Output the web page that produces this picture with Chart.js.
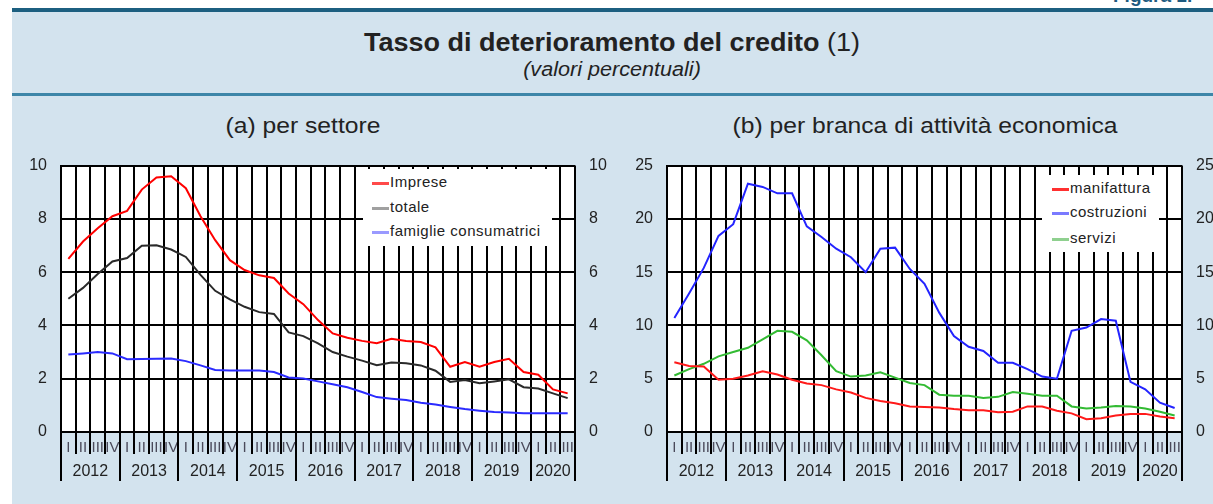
<!DOCTYPE html>
<html lang="it">
<head>
<meta charset="utf-8">
<script src="https://cdn.jsdelivr.net/npm/chart.js@4.4.1/dist/chart.umd.min.js"></script>
<style>
  body { margin: 0; width: 1213px; height: 504px; overflow: hidden; background: #fff; position: relative;
         font-family: 'Liberation Sans', Arial, sans-serif; color: #222; }
  #frame { position: absolute; left: 12px; top: 8px; right: 0; bottom: 0; background: #d3e3ee; border-top: 4px solid #1c5f80; }
  #rule { position: absolute; left: 12px; right: 0; top: 93px; height: 3px; background: #3d86a8; }
  #fig { position: absolute; left: 1113px; top: -15px; font-weight: bold; font-size: 19px; color: #1d5a80; white-space: nowrap; }
  .center { position: absolute; white-space: nowrap; transform: translateX(-50%) scaleX(1.08); }
  #title { left: 612px; top: 28px; font-size: 25px; font-weight: bold; }
  #title span { font-weight: normal; }
  #subtitle { left: 612px; top: 58px; font-size: 20px; font-style: italic; }
  .ptitle { top: 113px; font-size: 22px; transform: translateX(-50%) scaleX(1.12); }
  .wrap { position: absolute; top: 142px; height: 362px; }
  .legend { position: absolute; background: #fff; }
  .legend div { position: absolute; left: 9px; font-size: 15px; letter-spacing: 0.5px; line-height: 18px; white-space: nowrap; }
  .legend i { display: inline-block; width: 17px; height: 3px; vertical-align: middle; margin-right: 1px; }
</style>
</head>
<body>
<div id="frame"></div>
<div id="rule"></div>
<div id="fig">Figura 1.</div>
<div id="title" class="center">Tasso di deterioramento del credito <span>(1)</span></div>
<div id="subtitle" class="center">(valori percentuali)</div>
<div class="center ptitle" style="left:303px">(a) per settore</div>
<div class="center ptitle" style="left:925px">(b) per branca di attività economica</div>

<div class="wrap" style="left:0; width:620px"><canvas id="chartA" width="620" height="362"></canvas></div>
<div class="wrap" style="left:620px; width:593px"><canvas id="chartB" width="593" height="362"></canvas></div>

<div class="legend" style="left:363px; top:169px; width:189px; height:77px">
  <div style="top:4px"><i style="background:#ff4a4a"></i>Imprese</div>
  <div style="top:29px"><i style="background:#a0a0a0"></i>totale</div>
  <div style="top:53px"><i style="background:#9a9aff"></i>famiglie consumatrici</div>
</div>
<div class="legend" style="left:1042px; top:175px; width:117px; height:77px">
  <div style="top:4px; left:10px"><i style="background:#ff3030"></i>manifattura</div>
  <div style="top:28px; left:10px"><i style="background:#7a7aff"></i>costruzioni</div>
  <div style="top:54px; left:10px"><i style="background:#8fd08f"></i>servizi</div>
</div>

<script>
'use strict'
{
  const years = ['2012', '2013', '2014', '2015', '2016', '2017', '2018', '2019', '2020'];
  const periods = [
    '2012 I', '2012 II', '2012 III', '2012 IV', '2013 I', '2013 II', '2013 III', '2013 IV',
    '2014 I', '2014 II', '2014 III', '2014 IV', '2015 I', '2015 II', '2015 III', '2015 IV',
    '2016 I', '2016 II', '2016 III', '2016 IV', '2017 I', '2017 II', '2017 III', '2017 IV',
    '2018 I', '2018 II', '2018 III', '2018 IV', '2019 I', '2019 II', '2019 III', '2019 IV',
    '2020 I', '2020 II', '2020 III'
  ];

  // (a) per settore
  const imprese = [6.5, 7.15, 7.65, 8.1, 8.3, 9.1, 9.55, 9.6, 9.15, 8.1, 7.2, 6.45, 6.08, 5.88, 5.78, 5.2, 4.8, 4.2,
    3.7, 3.54, 3.42, 3.33, 3.5, 3.42, 3.38, 3.18, 2.45, 2.63, 2.45, 2.63, 2.75, 2.25, 2.15, 1.6, 1.45];
  const totale = [5.0, 5.41, 5.93, 6.4, 6.53, 6.99, 7.01, 6.85, 6.57, 5.9, 5.3, 4.98, 4.7, 4.5, 4.43, 3.74, 3.6, 3.33,
    3.0, 2.83, 2.68, 2.51, 2.61, 2.58, 2.5, 2.3, 1.88, 1.95, 1.83, 1.9, 1.98, 1.68, 1.63, 1.45, 1.27];
  const famiglie = [2.91, 2.95, 3.0, 2.95, 2.73, 2.74, 2.75, 2.76, 2.66, 2.5, 2.33, 2.31, 2.31, 2.31, 2.25, 2.05, 2.01, 1.9,
    1.79, 1.68, 1.5, 1.31, 1.25, 1.2, 1.1, 1.03, 0.94, 0.86, 0.8, 0.75, 0.73, 0.7, 0.7, 0.7, 0.7];

  // (b) per branca di attività economica
  const manifattura = [6.55, 6.2, 6.15, 4.9, 5.0, 5.3, 5.7, 5.4, 4.9, 4.55, 4.4, 4.0, 3.7, 3.2, 2.9, 2.7, 2.4, 2.35,
    2.3, 2.15, 2.05, 2.05, 1.85, 1.9, 2.4, 2.4, 2.0, 1.75, 1.2, 1.3, 1.55, 1.7, 1.7, 1.45, 1.3];
  const costruzioni = [10.7, 13.0, 15.4, 18.4, 19.5, 23.3, 23.0, 22.4, 22.4, 19.3, 18.3, 17.2, 16.4, 15.0, 17.2, 17.3, 15.3, 13.9,
    11.2, 9.0, 8.0, 7.6, 6.5, 6.5, 5.9, 5.2, 5.0, 9.5, 9.8, 10.6, 10.45, 4.7, 4.0, 2.75, 2.25];
  const servizi = [5.3, 5.9, 6.4, 7.1, 7.5, 7.9, 8.7, 9.5, 9.4, 8.6, 7.2, 5.7, 5.2, 5.3, 5.6, 5.1, 4.6, 4.4,
    3.5, 3.4, 3.4, 3.2, 3.3, 3.75, 3.6, 3.4, 3.4, 2.4, 2.2, 2.3, 2.45, 2.4, 2.2, 1.9, 1.55];

  const FONT = "'Liberation Sans', Arial, sans-serif";

  // white plot area, quarter/year separators and year labels under the axis
  const quarterAxis = {
    id: 'quarterAxis',
    beforeDraw(chart) {
      const { ctx, chartArea: a } = chart;
      ctx.save();
      ctx.fillStyle = '#fff';
      ctx.fillRect(a.left, a.top, a.right - a.left, a.bottom - a.top);
      ctx.restore();
    },
    afterDraw(chart) {
      const { ctx, chartArea: a } = chart;
      const x = chart.scales.x;
      const n = x.ticks.length;
      const edge = i => i === 0 ? x.left : i === n ? x.right
        : (x.getPixelForTick(i - 1) + x.getPixelForTick(i)) / 2;
      ctx.save();
      ctx.strokeStyle = '#000';
      ctx.lineWidth = 2;
      for (let i = 0; i <= n; i++) {
        const px = Math.round(edge(i));
        const yearLine = i % 4 === 0 || i === n;
        ctx.beginPath();
        ctx.moveTo(px, a.bottom);
        ctx.lineTo(px, a.bottom + (yearLine ? 49 : 22));
        ctx.stroke();
      }
      ctx.fillStyle = '#222';
      ctx.font = '16px ' + FONT;
      ctx.textAlign = 'center';
      ctx.textBaseline = 'middle';
      years.forEach((yr, k) => {
        const s = edge(k * 4), e = edge(Math.min(k * 4 + 4, n));
        ctx.fillText(yr, (s + e) / 2, a.bottom + 40);
      });
      ctx.restore();
    }
  };

  function makeChart(id, series, yMax, yStep, leftW, rightW) {
    const yTicks = { stepSize: yStep, padding: 14, color: '#222', font: { family: FONT, size: 16 } };
    return new Chart(document.getElementById(id), {
      type: 'line',
      data: {
        labels: periods,
        datasets: series.map(s => ({
          label: s.label,
          data: s.data,
          borderColor: s.color,
          borderWidth: 2,
          pointRadius: 0,
          tension: 0,
          yAxisID: 'y',
        })),
      },
      options: {
        responsive: false,
        animation: false,
        devicePixelRatio: 1,
        layout: { padding: { top: 5, left: 0, right: 0, bottom: 0 } },
        plugins: { legend: { display: false }, tooltip: { enabled: false } },
        scales: {
          x: {
            offset: true,
            grid: { offset: true, color: '#000', lineWidth: 2, drawTicks: false },
            border: { color: '#000', width: 2 },
            ticks: {
              autoSkip: false, maxRotation: 0, padding: 7, color: '#4a4a5a',
              font: { family: FONT, size: 15 },
              callback(v) { return this.getLabelForValue(v).split(' ')[1]; },
            },
            afterFit(scale) { scale.height = 72; },
          },
          y: {
            position: 'left', min: 0, max: yMax,
            grid: { color: '#000', lineWidth: 2, drawTicks: false },
            border: { color: '#000', width: 2 },
            ticks: yTicks,
            afterFit(scale) { scale.width = leftW; },
          },
          y2: {
            position: 'right', min: 0, max: yMax,
            grid: { display: false, drawTicks: false },
            border: { display: false },
            ticks: yTicks,
            afterFit(scale) { scale.width = rightW; },
          },
        },
      },
      plugins: [quarterAxis],
    });
  }

  makeChart('chartA', [
    { label: 'Imprese', data: imprese, color: '#ff0000' },
    { label: 'totale', data: totale, color: '#2a2a2a' },
    { label: 'famiglie consumatrici', data: famiglie, color: '#2b2bff' },
  ], 10, 2, 61, 45);

  makeChart('chartB', [
    { label: 'manifattura', data: manifattura, color: '#ff1a1a' },
    { label: 'costruzioni', data: costruzioni, color: '#2424ff' },
    { label: 'servizi', data: servizi, color: '#33bb33' },
  ], 25, 5, 47, 31);
}
</script>
</body>
</html>
